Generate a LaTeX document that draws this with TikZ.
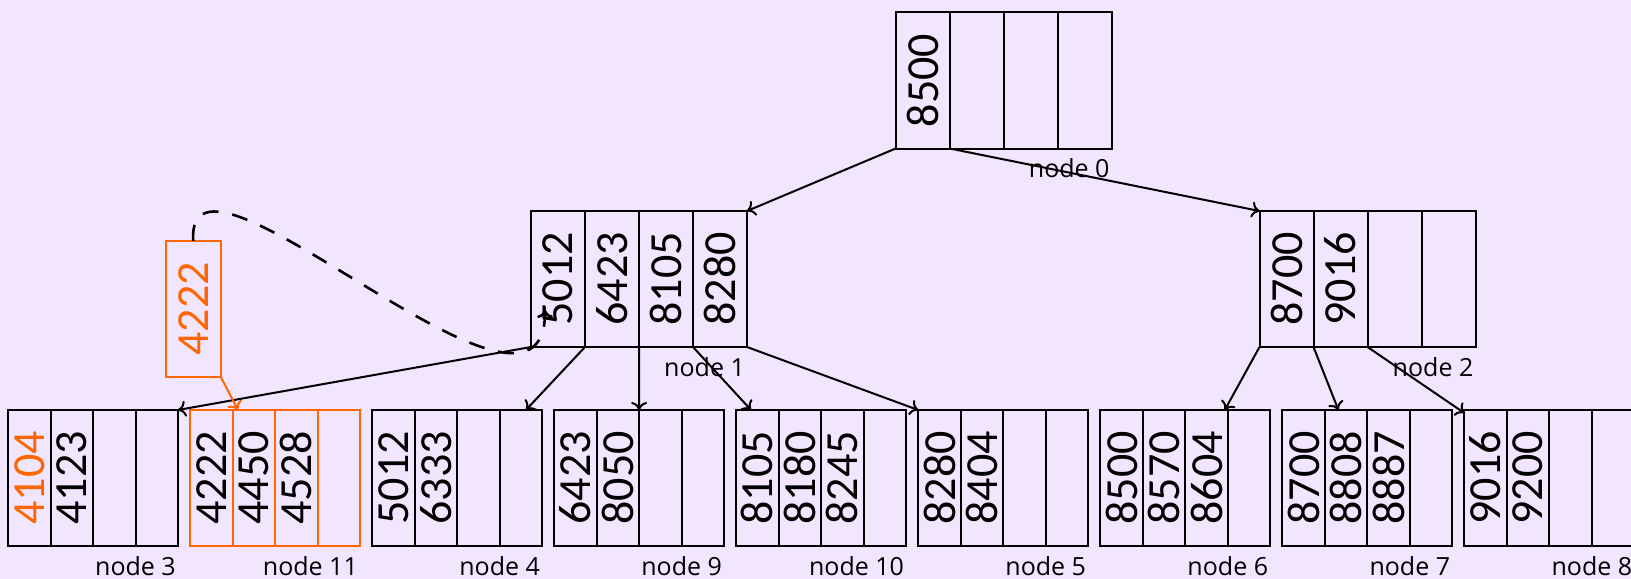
\documentclass[tikz,border=0pt]{standalone}
\usepackage{fontspec}
\setmainfont{Open Sans}
\newfontfamily\keyfont{Carlito}
\usetikzlibrary{arrows.meta, calc, positioning}
\definecolor{cBack}{RGB}{242,230,255}
\definecolor{cIns}{RGB}{255,102,0}
\tikzset{
	keycell/.style={rectangle, draw=black, line width=2bp, minimum height=136bp, inner sep=0pt, outer sep=0pt, font=\keyfont\fontsize{46bp}{46bp}\selectfont},
	insbox/.style ={keycell, draw=cIns, text=cIns, minimum width=55bp},
	nlabel/.style ={font=\fontsize{25bp}{28bp}\selectfont, inner sep=0pt, anchor=base east},
	ptr/.style    ={-{To[length=8bp, width=16bp]}, line width=2bp},
	movecurve/.style={-{To[length=8bp, width=16bp]}, line width=2.6bp, dash pattern=on 16bp off 14bp},
}

\begin{document}
\begin{tikzpicture}[x=1bp, y=-1bp]
	\useasboundingbox (0,0) rectangle (1631,579);
	\fill[cBack] (0,0) rectangle (1631,579);
	% tree nodes: number / left / top / cell width / colour / keys
	\foreach \i/\x/\y/\w/\c/\ka/\kb/\kc/\kd in {
		0/895.7/12.5/54/black/8500/{}/{}/{},
		1/531/211/54/black/5012/6423/8105/8280,
		2/1259.5/211/54/black/8700/9016/{}/{},
		3/8/410/42.5/black/{\textcolor{cIns}{4104}}/4123/{}/{},
		11/190.04/410/42.5/cIns/4222/4450/4528/{},
		4/372.08/410/42.5/black/5012/6333/{}/{},
		9/554.12/410/42.5/black/6423/8050/{}/{},
		10/736.16/410/42.5/black/8105/8180/8245/{},
		5/918.2/410/42.5/black/8280/8404/{}/{},
		6/1100.24/410/42.5/black/8500/8570/8604/{},
		7/1282.28/410/42.5/black/8700/8808/8887/{},
		8/1464.32/410/42.5/black/9016/9200/{}/{}}{
		\node[keycell, draw=\c, minimum width=\w bp, anchor=north west] (b\i-0) at (\x,\y) {\rotatebox{90}{\ka}};
		\node[keycell, draw=\c, minimum width=\w bp, anchor=north west] (b\i-1) at (b\i-0.north east) {\rotatebox{90}{\kb}};
		\node[keycell, draw=\c, minimum width=\w bp, anchor=north west] (b\i-2) at (b\i-1.north east) {\rotatebox{90}{\kc}};
		\node[keycell, draw=\c, minimum width=\w bp, anchor=north west] (b\i-3) at (b\i-2.north east) {\rotatebox{90}{\kd}};
		\node[nlabel] (b\i-lab) at ($(b\i-3.south east)+(-2,29)$) {node \i};
	}
	% key being inserted
	\node[insbox] (newkey) at (193.2,308.8) {\rotatebox{90}{4222}};
	% child pointers
	\draw[ptr] (b0-0.south west) -- (b1-3.north east);
	\draw[ptr] (b0-0.south east) -- (b2-0.north west);
	\draw[ptr] (b1-0.south west) -- (b3-3.north east);
	\draw[ptr] (b1-0.south east) -- ($(b4-3.north west)!0.62!(b4-3.north east)$);
	\draw[ptr] (b1-1.south east) -- (b9-1.north east);
	\draw[ptr] (b1-2.south east) -- ($(b10-0.north west)!0.35!(b10-0.north east)$);
	\draw[ptr] (b1-3.south east) -- (b5-0.north west);
	\draw[ptr] (b2-0.south west) -- ($(b6-2.north west)!0.93!(b6-2.north east)$);
	\draw[ptr] (b2-0.south east) -- ($(b7-1.north west)!0.32!(b7-1.north east)$);
	\draw[ptr] (b2-1.south east) -- ($(b8-0.north west)+(0,3)$);
	\draw[ptr, cIns] (newkey.south east) -- ($(b11-1.north west)!0.13!(b11-1.north east)$);
	\draw[movecurve] (newkey.north) .. controls +(-8,-131) and +(0,160) .. ($(b1-0.south west)+(14,-37)$);
\end{tikzpicture}
\end{document}
